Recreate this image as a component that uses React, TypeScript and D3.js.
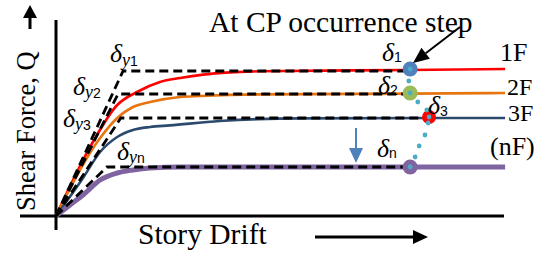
import React from 'react';
import * as d3 from 'd3';

const WIDTH = 545;
const HEIGHT = 254;

// story drift (x) vs shear force (y), arbitrary units
const FLOORS = ['1F', '2F', '3F', '(nF)'];

const curve1F: [number, number][] = [
  [0, 0], [0.82, 3.7], [1.36, 5.55], [1.8, 6.2], [2.31, 6.7], [2.76, 6.9],
  [3.27, 7.07], [3.87, 7.18], [4.53, 7.24], [7.84, 7.3], [9.98, 7.35],
];
const curve2F: [number, number][] = [
  [0, 0], [0.98, 3.9], [1.36, 4.9], [1.71, 5.45], [2.09, 5.7], [2.76, 5.95],
  [3.2, 6.0], [4.53, 6.08], [7.87, 6.12], [9.98, 6.15],
];
const curve3F: [number, number][] = [
  [0, 0], [0.6, 1.9], [0.98, 3.2], [1.36, 3.95], [1.71, 4.3], [2.09, 4.45],
  [2.53, 4.53], [3.64, 4.75], [5.42, 4.88], [8.31, 4.9], [9.98, 4.9],
];
const curveNF: [number, number][] = [
  [0, 0], [0.31, 0.55], [0.6, 1.05], [0.98, 1.8], [1.36, 2.15], [1.71, 2.3],
  [2.09, 2.4], [2.76, 2.45], [9.98, 2.45],
];
const CURVES = [curve1F, curve2F, curve3F, curveNF];

// bilinear idealisation
const yieldDrift = [1.49, 1.38, 1.44, 1.13];
const yieldShear = [7.25, 6.1, 4.9, 2.45];

// collapse prevention points
const cpDrift = [7.87, 7.87, 8.29, 7.87];
const cpShear = [7.35, 6.15, 4.95, 2.45];
const cpTrail: [number, number][] = [
  [7.87, 7.35], [7.84, 6.75], [7.87, 6.15], [8.04, 5.7], [8.24, 5.3], [8.29, 4.95],
  [8.27, 4.65], [8.2, 4.05], [8.07, 3.5], [7.98, 2.95], [7.87, 2.45],
];

const lineColors = ['#ff0000', '#e8740f', '#2c4a6e', '#8064a2'];
const lineWidths = [2.6, 2.6, 2.6, 5];
const dotColors = ['#4f81bd', '#9bbb59', '#ff0000', '#8064a2'];

const SERIF = '"Liberation Serif", "Times New Roman", serif';
const SANS = '"Liberation Sans", Arial, sans-serif';

const arrow = (x1: number, y1: number, x2: number, y2: number, len: number, half: number) => {
  const a = Math.atan2(y2 - y1, x2 - x1);
  const bx = x2 - len * Math.cos(a);
  const by = y2 - len * Math.sin(a);
  const px = -Math.sin(a) * half;
  const py = Math.cos(a) * half;
  return {
    shaft: [bx, by],
    head: `${x2},${y2} ${bx + px},${by + py} ${bx - px},${by - py}`,
  };
};

const Delta = ({ x, y, sub, subY, ySub }: { x: number; y: number; sub: string; subY: number; ySub?: boolean }) => (
  <text x={x} y={y} fontFamily={SERIF} fill="#000">
    <tspan fontStyle="italic" fontSize={26}>δ</tspan>
    {ySub && <tspan fontStyle="italic" fontSize={18} y={subY}>y</tspan>}
    <tspan fontFamily={SANS} fontSize={14} y={subY}>{sub}</tspan>
  </text>
);

export default function App() {
  const x = d3.scaleLinear().domain([0, 10]).range([56, 506]);
  const y = d3.scaleLinear().domain([0, 10]).range([216, 16]);

  const line = d3.line<[number, number]>()
    .x(d => x(d[0]))
    .y(d => y(d[1]))
    .curve(d3.curveMonotoneX);
  const straight = d3.line<[number, number]>()
    .x(d => x(d[0]))
    .y(d => y(d[1]));

  const yArrow = arrow(30, 29, 30, 5, 13, 7);
  const xArrow = arrow(315, 237, 428, 237, 15, 7);
  const cpArrow = arrow(460, 27, 413, 63, 16, 7);
  const downArrow = arrow(356, 128, 356, 163, 15, 7);

  return (
    <svg width={WIDTH} height={HEIGHT} style={{ position: 'absolute', left: 0, top: 0 }}>
      <rect width={WIDTH} height={HEIGHT} fill="#fff" />

      {/* axes */}
      <line x1={56} y1={20} x2={56} y2={230} stroke="#000" strokeWidth={3} />
      <line x1={20} y1={216} x2={504} y2={216} stroke="#000" strokeWidth={3} />

      {/* capacity curves */}
      {CURVES.map((c, i) => (
        <path key={FLOORS[i]} d={line(c) || ''} fill="none"
          stroke={lineColors[i]} strokeWidth={lineWidths[i]} />
      ))}

      {/* bilinear idealisation */}
      {FLOORS.map((f, i) => (
        <path key={'b' + f}
          d={straight([[0, 0], [yieldDrift[i], yieldShear[i]], [cpDrift[i] - 0.12, yieldShear[i]]]) || ''}
          fill="none" stroke="#000" strokeWidth={2.8} strokeDasharray="9 5" />
      ))}

      {/* CP points */}
      {FLOORS.map((f, i) => (
        <circle key={'c' + f} cx={x(cpDrift[i])} cy={y(cpShear[i])} r={i === 2 ? 7 : 7.5} fill={dotColors[i]} />
      ))}
      {cpTrail.map((d, i) => (
        <circle key={'t' + i} cx={x(d[0])} cy={y(d[1])} r={2.4} fill="#4bacc6" />
      ))}

      {/* floor labels */}
      <text x={500} y={61} fontFamily={SERIF} fontSize={26}>{FLOORS[0]}</text>
      <text x={507} y={95} fontFamily={SERIF} fontSize={24}>{FLOORS[1]}</text>
      <text x={508} y={121} fontFamily={SERIF} fontSize={24}>{FLOORS[2]}</text>
      <text x={490} y={155} fontFamily={SERIF} fontSize={26}>{FLOORS[3]}</text>

      {/* delta labels */}
      <Delta x={110} y={62} sub="1" subY={66} ySub />
      <Delta x={73} y={95} sub="2" subY={98} ySub />
      <Delta x={63} y={127} sub="3" subY={130} ySub />
      <Delta x={117} y={160} sub="n" subY={163} ySub />
      <Delta x={382} y={61} sub="1" subY={62} />
      <Delta x={378} y={94} sub="2" subY={95} />
      <Delta x={428} y={114} sub="3" subY={116} />
      <Delta x={377} y={157} sub="n" subY={158} />

      {/* titles */}
      <text x={209} y={32} fontFamily={SERIF} fontSize={29.5}>At CP occurrence step</text>
      <text x={138} y={244} fontFamily={SERIF} fontSize={29.5}>Story Drift</text>
      <text transform="translate(35,211) rotate(-90)" fontFamily={SERIF} fontSize={26.5}>Shear Force, Q</text>

      {/* arrows */}
      <line x1={30} y1={29} x2={yArrow.shaft[0]} y2={yArrow.shaft[1]} stroke="#000" strokeWidth={3} />
      <polygon points={yArrow.head} fill="#000" />
      <line x1={315} y1={237} x2={xArrow.shaft[0]} y2={xArrow.shaft[1]} stroke="#000" strokeWidth={3} />
      <polygon points={xArrow.head} fill="#000" />
      <line x1={460} y1={27} x2={cpArrow.shaft[0]} y2={cpArrow.shaft[1]} stroke="#000" strokeWidth={2} />
      <polygon points={cpArrow.head} fill="#000" />
      <line x1={356} y1={128} x2={downArrow.shaft[0]} y2={downArrow.shaft[1]} stroke="#4f81bd" strokeWidth={2} />
      <polygon points={downArrow.head} fill="#4f81bd" />
    </svg>
  );
}
